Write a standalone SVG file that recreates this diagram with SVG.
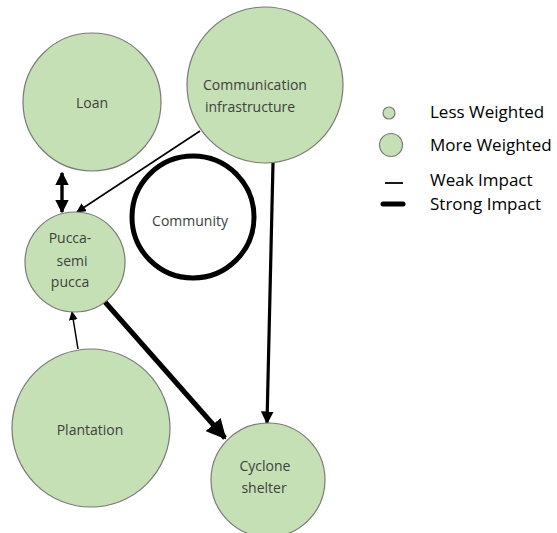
<svg xmlns="http://www.w3.org/2000/svg" width="557" height="533" viewBox="0 0 557 533">
<style>
.node{fill:#c5e0b4;stroke:#7a7a7a;stroke-width:1.2}
.lbl{font-family:"Open Sans","Liberation Sans",sans-serif;font-size:14px;fill:#404040;text-anchor:middle}
.leg{font-family:"Open Sans","Liberation Sans",sans-serif;font-size:17px;fill:#000}
.edge{stroke:#000;fill:none}
</style>
<defs>
<marker id="ah" viewBox="0 0 10 10" refX="9" refY="5" markerWidth="4" markerHeight="4" orient="auto-start-reverse" markerUnits="strokeWidth"><path d="M0,0L10,5L0,10z" fill="#000"/></marker>
<marker id="ahs" viewBox="0 0 10 10" refX="9" refY="5" markerWidth="6" markerHeight="6" orient="auto" markerUnits="strokeWidth"><path d="M0,0L10,5L0,10z" fill="#000"/></marker>
</defs>
<rect width="557" height="533" fill="#fff"/>
<g id="connectors">
<line class="edge" x1="62" y1="173" x2="62" y2="212" stroke-width="3.4" marker-start="url(#ah)" marker-end="url(#ah)"/>
<line class="edge" x1="200" y1="131" x2="77" y2="212" stroke-width="1.6" marker-end="url(#ahs)"/>
<line class="edge" x1="273" y1="163" x2="267" y2="423" stroke-width="3.2" marker-end="url(#ah)"/>
<line class="edge" x1="105" y1="302" x2="225" y2="438" stroke-width="5" marker-end="url(#ah)"/>
<line class="edge" x1="78" y1="349" x2="72" y2="312" stroke-width="1.5" marker-end="url(#ahs)"/>
</g>
<g id="loan"><circle class="node" cx="92" cy="102" r="69"/><text class="lbl" x="92" y="108">Loan</text></g>
<g id="communication"><circle class="node" cx="265" cy="85" r="78"/><text class="lbl" x="255" y="90">Communication</text><text class="lbl" x="250" y="112">infrastructure</text></g>
<g id="community"><circle cx="193" cy="217" r="61" fill="#fff" stroke="#000" stroke-width="5"/><text class="lbl" x="190" y="226">Community</text></g>
<g id="pucca"><circle class="node" cx="75" cy="262" r="50"/><text class="lbl" x="70" y="243">Pucca-</text><text class="lbl" x="72" y="266">semi</text><text class="lbl" x="70" y="287">pucca</text></g>
<g id="plantation"><circle class="node" cx="91" cy="428" r="79"/><text class="lbl" x="90" y="435">Plantation</text></g>
<g id="cyclone"><circle class="node" cx="268" cy="480" r="57"/><text class="lbl" x="265" y="471">Cyclone</text><text class="lbl" x="264" y="493">shelter</text></g>
<g id="legend">
<circle class="node" cx="389" cy="113" r="6" stroke="#333" stroke-width="1.8"/>
<circle class="node" cx="391" cy="145" r="11.5" stroke="#333" stroke-width="1.8"/>
<line x1="385" y1="183" x2="403" y2="183" stroke="#000" stroke-width="1.8"/>
<line x1="383" y1="204" x2="403" y2="204" stroke="#000" stroke-width="5" stroke-linecap="round"/>
<text class="leg" x="430" y="118">Less Weighted</text>
<text class="leg" x="430" y="151">More Weighted</text>
<text class="leg" x="430" y="186">Weak Impact</text>
<text class="leg" x="430" y="210">Strong Impact</text>
</g>
</svg>
